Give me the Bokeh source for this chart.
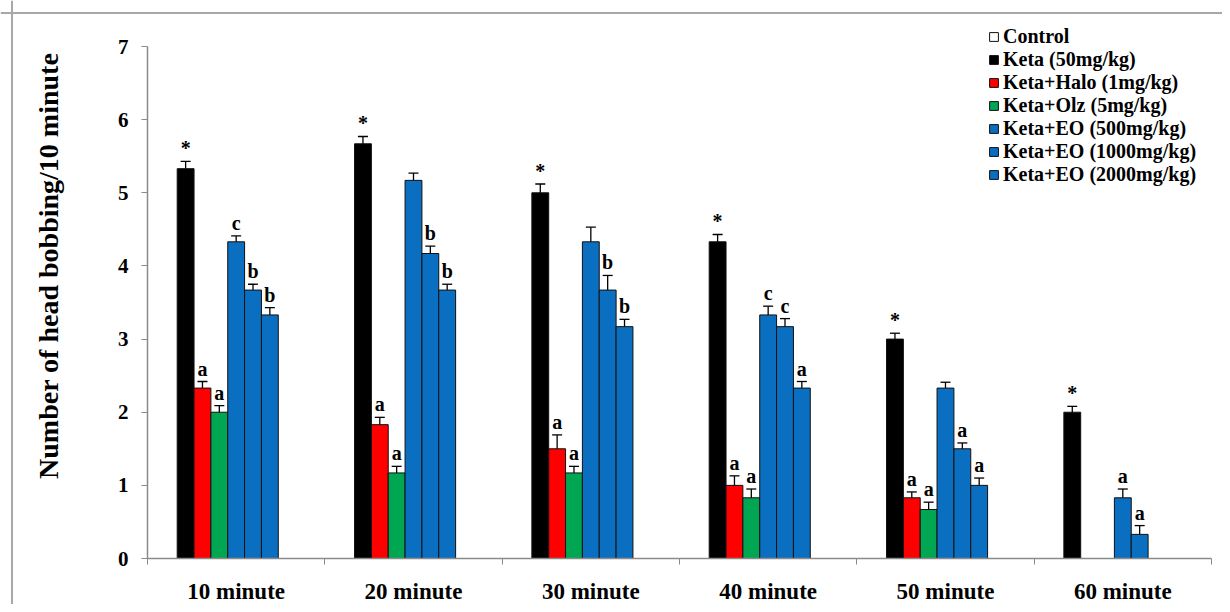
import math
from bokeh.plotting import figure
from bokeh.models import (ColumnDataSource, FixedTicker, Whisker, TeeHead, Legend,
                          LegendItem, Label, Range1d, Span)
from bokeh.core.properties import value
from bokeh.embed import file_html
from bokeh.resources import INLINE

# ---------------- data ----------------
groups = ["10 minute", "20 minute", "30 minute", "40 minute", "50 minute", "60 minute"]
series_names = ["Control", "Keta (50mg/kg)", "Keta+Halo (1mg/kg)", "Keta+Olz (5mg/kg)",
                "Keta+EO (500mg/kg)", "Keta+EO (1000mg/kg)", "Keta+EO (2000mg/kg)"]

control = [0, 0, 0, 0, 0, 0]
keta = [5.33, 5.67, 5.00, 4.33, 3.00, 2.00]
halo = [2.33, 1.83, 1.50, 1.00, 0.83, 0.00]
olz = [2.00, 1.17, 1.17, 0.83, 0.67, 0.00]
eo500 = [4.33, 5.17, 4.33, 3.33, 2.33, 0.83]
eo1000 = [3.67, 4.17, 3.67, 3.17, 1.50, 0.33]
eo2000 = [3.33, 3.67, 3.17, 2.33, 1.00, 0.00]

control_err = [0, 0, 0, 0, 0, 0]
keta_err = [0.10, 0.10, 0.12, 0.10, 0.08, 0.08]
halo_err = [0.09, 0.10, 0.19, 0.13, 0.08, 0.00]
olz_err = [0.09, 0.09, 0.09, 0.12, 0.10, 0.00]
eo500_err = [0.08, 0.10, 0.20, 0.12, 0.08, 0.12]
eo1000_err = [0.08, 0.10, 0.20, 0.11, 0.08, 0.12]
eo2000_err = [0.10, 0.08, 0.10, 0.09, 0.10, 0.00]

control_sig = ["", "", "", "", "", ""]
keta_sig = ["*", "*", "*", "*", "*", "*"]
halo_sig = ["a", "a", "a", "a", "a", ""]
olz_sig = ["a", "a", "a", "a", "a", ""]
eo500_sig = ["c", "", "", "c", "", "a"]
eo1000_sig = ["b", "b", "b", "c", "a", "a"]
eo2000_sig = ["b", "b", "b", "a", "a", ""]

y_ticks = [0, 1, 2, 3, 4, 5, 6, 7]
y_title = "Number of head  bobbing/10 minute"

# ---------------- styling ----------------
colors = ["#ffffff", "#000000", "#ff0000", "#00a651", "#0b6fc1", "#0b6fc1", "#0b6fc1"]
slots = [-4, -3, -2, -1, 0, 1, 2]
bar_w = 0.095
SERIF = value("Liberation Serif")

all_vals = [control, keta, halo, olz, eo500, eo1000, eo2000]
all_errs = [control_err, keta_err, halo_err, olz_err, eo500_err, eo1000_err, eo2000_err]
all_sigs = [control_sig, keta_sig, halo_sig, olz_sig, eo500_sig, eo1000_sig, eo2000_sig]

# frame covers the whole canvas; axes are pinned at 0
W, H = 1222, 604
px_x = 177.33   # pixels per category
px_y = 73.14    # pixels per unit
x0_px, y0_px = 147, 558   # canvas position of the origin
p = figure(width=W, height=H, output_backend="svg", toolbar_location=None,
           x_range=Range1d(-x0_px / px_x, (W - x0_px) / px_x),
           y_range=Range1d(-(H - y0_px) / px_y, y0_px / px_y),
           min_border=0, min_border_left=0, min_border_right=0,
           min_border_top=0, min_border_bottom=0)
p.outline_line_color = None
p.xgrid.visible = False
p.ygrid.visible = False
p.background_fill_color = "white"

# outer chart border (top and left)
p.add_layout(Span(location=(y0_px - 12.5) / px_y, dimension="width",
                  line_color="#a8a8a8", line_width=2))
p.add_layout(Span(location=-(x0_px - 11.5) / px_x, dimension="height",
                  line_color="#a8a8a8", line_width=2))

legend_items = []
for name, vals, errs, sigs, col, slot in zip(series_names, all_vals, all_errs, all_sigs, colors, slots):
    xs, tops, ups, lows, labs = [], [], [], [], []
    for gi, (v, e, s) in enumerate(zip(vals, errs, sigs)):
        xs.append(gi + 0.5 + slot * bar_w)
        tops.append(v)
        ups.append(v + e)
        lows.append(v - e)
        labs.append(s)
    src = ColumnDataSource(dict(x=xs, top=tops, up=ups, low=lows, lab=labs))
    keep = [i for i, v in enumerate(vals) if v > 0]
    if keep:
        sub = ColumnDataSource({k: [c[i] for i in keep] for k, c in src.data.items()})
        r = p.vbar(x="x", top="top", bottom=0, width=bar_w, source=sub,
                   fill_color=col, line_color="#111111", line_width=1)
        w = Whisker(base="x", upper="up", lower="low", source=sub, dimension="height",
                    line_color="black", line_width=1.3,
                    upper_head=TeeHead(size=10, line_color="black", line_width=1.3),
                    lower_head=TeeHead(size=10, line_color="black", line_width=1.3))
        p.add_layout(w)
        p.text(x="x", y="up", text="lab", source=sub, text_font=SERIF,
               text_font_style="bold", text_font_size="20px", text_color="black",
               text_align="center", text_baseline="bottom", y_offset=-2)
    else:
        # all-zero series (Control): kept for the legend, bars of zero height hidden
        r = p.vbar(x="x", top="top", bottom=0, width=bar_w, source=src,
                   fill_color=col, line_color="#111111", line_width=1, visible=False)
    legend_items.append(LegendItem(label=name, renderers=[r]))

# axes
xa = p.xaxis[0]
xa.fixed_location = 0
xa.bounds = (0, len(groups))
xa.ticker = FixedTicker(ticks=[i + 0.5 for i in range(len(groups))],
                        minor_ticks=list(range(len(groups) + 1)))
xa.major_label_overrides = {i + 0.5: g for i, g in enumerate(groups)}
xa.major_tick_out = 0
xa.major_tick_in = 0
xa.minor_tick_out = 6
xa.minor_tick_in = 0
xa.minor_tick_line_color = "#8a8a8a"
xa.axis_line_color = "#8a8a8a"
xa.axis_line_width = 1.5
xa.major_label_standoff = 14
xa.major_label_text_font = "Liberation Serif"
xa.major_label_text_font_style = "bold"
xa.major_label_text_font_size = "23px"
xa.major_label_text_color = "black"

ya = p.yaxis[0]
ya.fixed_location = 0
ya.bounds = (0, 7)
ya.ticker = FixedTicker(ticks=y_ticks)
ya.minor_tick_line_color = None
ya.major_tick_out = 6
ya.major_tick_in = 0
ya.major_tick_line_color = "#8a8a8a"
ya.axis_line_color = "#8a8a8a"
ya.axis_line_width = 1.5
ya.major_label_standoff = 13
ya.major_label_text_font = "Liberation Serif"
ya.major_label_text_font_style = "bold"
ya.major_label_text_font_size = "21px"
ya.major_label_text_color = "black"

title = Label(x=-0.56, y=4.05, text=y_title, angle=math.pi / 2,
              text_font="Liberation Serif", text_font_style="bold", text_font_size="28px",
              text_align="center", text_baseline="middle", text_color="black")
p.add_layout(title)

legend = Legend(items=legend_items, location=(988, 418), orientation="vertical",
                label_text_font="Liberation Serif", label_text_font_style="bold",
                label_text_font_size="20px", label_text_color="black",
                glyph_width=11, glyph_height=11, label_height=20, spacing=0,
                label_standoff=4, padding=0, margin=0,
                inactive_fill_alpha=0,
                border_line_color=None, background_fill_alpha=0)
p.add_layout(legend)

open("out.html", "w").write(file_html(p, INLINE))
